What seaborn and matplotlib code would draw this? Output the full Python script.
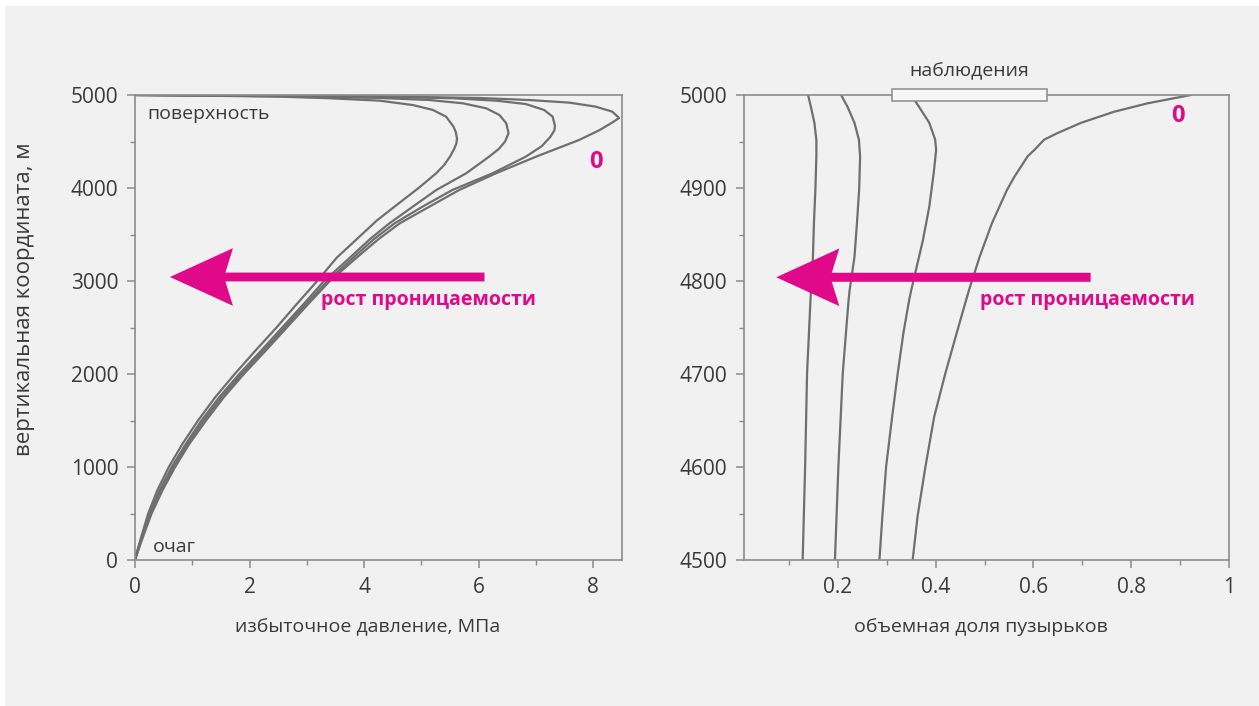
import matplotlib
matplotlib.use("Agg")
import matplotlib.pyplot as plt
import matplotlib.patches as mpatches
from matplotlib.ticker import MultipleLocator, FixedLocator, FixedFormatter
import seaborn as sns
import pandas as pd

# ---------------- data ----------------
# left panel: overpressure (MPa) vs vertical coordinate (m), four permeabilities
p1_y = [0, 100, 250, 500, 750, 1000, 1250, 1500, 1750, 2000, 2250, 2500, 2750, 3000, 3250, 3450, 3650, 3800, 4000, 4160, 4250, 4340, 4420, 4480, 4530, 4600, 4659, 4767, 4839, 4892, 4939, 4965, 4982, 4993, 5000]
p1_x = [0, 0.04, 0.11, 0.23, 0.39, 0.59, 0.83, 1.10, 1.40, 1.74, 2.10, 2.47, 2.82, 3.18, 3.52, 3.87, 4.22, 4.53, 4.95, 5.26, 5.40, 5.50, 5.57, 5.61, 5.62, 5.60, 5.56, 5.43, 5.20, 4.85, 4.27, 3.40, 2.53, 1.2, 0]

p2_y = [0, 100, 250, 500, 750, 1000, 1250, 1500, 1750, 2000, 2250, 2500, 2750, 3000, 3262, 3450, 3620, 3800, 3979, 4158, 4337, 4420, 4500, 4591, 4696, 4785, 4857, 4911, 4946, 4968, 4984, 4994, 5000]
p2_x = [0, 0.045, 0.12, 0.25, 0.43, 0.64, 0.89, 1.16, 1.47, 1.82, 2.20, 2.57, 2.94, 3.30, 3.77, 4.10, 4.44, 4.85, 5.26, 5.78, 6.18, 6.35, 6.46, 6.52, 6.48, 6.36, 6.13, 5.72, 5.14, 4.27, 3.0, 1.3, 0]

p3_y = [0, 100, 250, 500, 750, 1000, 1250, 1500, 1750, 2000, 2250, 2500, 2750, 3000, 3262, 3450, 3620, 3800, 3979, 4158, 4337, 4450, 4550, 4620, 4667, 4767, 4839, 4903, 4939, 4965, 4982, 4993, 5000]
p3_x = [0, 0.05, 0.13, 0.27, 0.46, 0.67, 0.92, 1.20, 1.51, 1.86, 2.24, 2.61, 2.98, 3.36, 3.83, 4.17, 4.53, 5.02, 5.54, 6.24, 6.82, 7.10, 7.25, 7.32, 7.33, 7.29, 7.14, 6.82, 6.30, 5.55, 4.2, 2.0, 0]

p4_y = [0, 100, 250, 500, 750, 1000, 1250, 1500, 1750, 2000, 2250, 2500, 2750, 3000, 3262, 3450, 3620, 3800, 3979, 4158, 4337, 4516, 4620, 4700, 4753, 4821, 4875, 4918, 4946, 4968, 4983, 4993, 5000]
p4_x = [0, 0.055, 0.14, 0.29, 0.48, 0.70, 0.95, 1.24, 1.55, 1.90, 2.28, 2.65, 3.02, 3.40, 3.89, 4.25, 4.62, 5.14, 5.66, 6.30, 7.00, 7.75, 8.10, 8.32, 8.45, 8.33, 8.04, 7.58, 6.88, 6.01, 4.5, 2.2, 0]

# right panel: bubble volume fraction vs vertical coordinate (m)
b1_y = [4500, 4600, 4701, 4780, 4790, 4826, 4862, 4898, 4934, 4952, 4970, 4987, 5000]
b1_x = [0.128, 0.133, 0.137, 0.144, 0.145, 0.149, 0.151, 0.154, 0.156, 0.156, 0.152, 0.145, 0.139]

b2_y = [4500, 4600, 4701, 4780, 4790, 4826, 4862, 4898, 4934, 4952, 4970, 4987, 5000]
b2_x = [0.194, 0.201, 0.210, 0.222, 0.224, 0.234, 0.239, 0.2435, 0.2455, 0.243, 0.234, 0.220, 0.2067]

b3_y = [4500, 4547, 4600, 4654, 4701, 4744, 4780, 4790, 4844, 4880, 4916, 4941, 4952, 4970, 4984, 5000]
b3_x = [0.285, 0.291, 0.2986, 0.311, 0.3225, 0.334, 0.346, 0.350, 0.374, 0.387, 0.396, 0.401, 0.399, 0.387, 0.370, 0.350]

b4_y = [4500, 4547, 4600, 4654, 4701, 4744, 4790, 4826, 4862, 4898, 4912, 4934, 4941, 4952, 4959, 4970, 4982, 4991, 5000]
b4_x = [0.353, 0.363, 0.379, 0.397, 0.420, 0.443, 0.468, 0.490, 0.515, 0.546, 0.561, 0.588, 0.602, 0.622, 0.649, 0.697, 0.765, 0.833, 0.922]

left_xticks = [0, 2, 4, 6, 8]
left_yticks = [0, 1000, 2000, 3000, 4000, 5000]
right_xticks = [0.2, 0.4, 0.6, 0.8, 1.0]
right_xlabels = ["0.2", "0.4", "0.6", "0.8", "1"]
right_yticks = [4500, 4600, 4700, 4800, 4900, 5000]
obs_range = [0.311, 0.627]

# ---------------- styling ----------------
BG = "#f1f1f1"
SPINE = "#8c8c8c"
LINE = "#6f6f6f"
MAG = "#e0098a"
TXT = "#3a3a3a"

sns.set_theme(style="ticks")
plt.rcParams["font.family"] = ["Open Sans", "DejaVu Sans"]
plt.rcParams.update({
    "axes.edgecolor": SPINE, "axes.linewidth": 1.2,
    "xtick.color": SPINE, "ytick.color": SPINE,
    "xtick.labelcolor": TXT, "ytick.labelcolor": TXT,
    "xtick.direction": "out", "ytick.direction": "out",
    "xtick.major.size": 6, "ytick.major.size": 6,
    "xtick.minor.size": 3.5, "ytick.minor.size": 3.5,
    "xtick.major.width": 1.1, "ytick.major.width": 1.1,
    "xtick.minor.width": 1.0, "ytick.minor.width": 1.0,
    "xtick.labelsize": 15, "ytick.labelsize": 15,
})

W, H = 1259, 706
fig = plt.figure(figsize=(W / 100, H / 100), dpi=100, facecolor="white")
fig.patches.append(mpatches.Rectangle((5 / W, 0), 1, 1 - 6 / H, transform=fig.transFigure,
                                      facecolor=BG, edgecolor="none", zorder=-10))

def fx(px):
    return px / W

def fy(py):
    return 1 - py / H

axL = fig.add_axes([fx(135), fy(560), fx(622) - fx(135), fy(95) - fy(560)])
axR = fig.add_axes([fx(744), fy(560), fx(1229) - fx(744), fy(95) - fy(560)])

for ax in (axL, axR):
    ax.set_facecolor(BG)
    for s in ax.spines.values():
        s.set_visible(True)
        s.set_color(SPINE)

# ---- left panel ----
left_curves = [(p1_x, p1_y), (p2_x, p2_y), (p3_x, p3_y), (p4_x, p4_y)]
for xs, ys in left_curves:
    df = pd.DataFrame({"x": xs, "y": ys})
    sns.lineplot(data=df, x="x", y="y", sort=False, estimator=None, ax=axL,
                 color=LINE, linewidth=1.6, solid_joinstyle="round", solid_capstyle="round")

axL.set_xlim(0, 8.5)
axL.set_ylim(0, 5000)
axL.xaxis.set_major_locator(FixedLocator(left_xticks))
axL.xaxis.set_minor_locator(MultipleLocator(1))
axL.yaxis.set_major_locator(FixedLocator(left_yticks))
axL.yaxis.set_minor_locator(MultipleLocator(500))
axL.tick_params(axis="both", which="major", pad=6)
axL.set_xlabel("избыточное давление, МПа", fontsize=14, color=TXT)
axL.xaxis.set_label_coords(0.478, -0.125)
axL.set_ylabel("вертикальная координата, м", fontsize=16, color=TXT)
axL.yaxis.set_label_coords(-0.205, 0.56)

axL.text(0.21, 4800, "поверхность", fontsize=14, color=TXT, ha="left", va="center")
axL.text(0.31, 140, "очаг", fontsize=14, color=TXT, ha="left", va="center")
axL.text(8.05, 4280, "0", fontsize=17, color=MAG, fontweight="bold", ha="center", va="center")
axL.arrow(6.1, 3043, 0.61 - 6.1, 0, width=95, head_width=620, head_length=1.1,
          length_includes_head=True, overhang=0.12, color=MAG, zorder=5, linewidth=0)
axL.text(5.12, 2796, "рост проницаемости", fontsize=14, color=MAG, fontweight="bold",
         ha="center", va="center")

# ---- right panel ----
right_curves = [(b1_x, b1_y), (b2_x, b2_y), (b3_x, b3_y), (b4_x, b4_y)]
for xs, ys in right_curves:
    df = pd.DataFrame({"x": xs, "y": ys})
    sns.lineplot(data=df, x="x", y="y", sort=False, estimator=None, ax=axR,
                 color=LINE, linewidth=1.6, solid_joinstyle="round", solid_capstyle="round")

axR.set_xlim(0.008, 1.0)
axR.set_ylim(4500, 5000)
axR.xaxis.set_major_locator(FixedLocator(right_xticks))
axR.xaxis.set_major_formatter(FixedFormatter(right_xlabels))
axR.xaxis.set_minor_locator(FixedLocator([0.1, 0.3, 0.5, 0.7, 0.9]))
axR.yaxis.set_major_locator(FixedLocator(right_yticks))
axR.yaxis.set_minor_locator(MultipleLocator(50))
axR.tick_params(axis="both", which="major", pad=6)
axR.set_xlabel("объемная доля пузырьков", fontsize=14, color=TXT)
axR.xaxis.set_label_coords(0.489, -0.125)
axR.set_ylabel("")

rect = mpatches.Rectangle((obs_range[0], 4993.5), obs_range[1] - obs_range[0], 13,
                          facecolor="#f6f6f6", edgecolor="#8c8c8c", linewidth=1.1,
                          clip_on=False, zorder=6)
axR.add_patch(rect)
axR.text(sum(obs_range) / 2, 5025, "наблюдения", fontsize=14, color=TXT,
         ha="center", va="center", clip_on=False)
axR.text(0.895, 4977, "0", fontsize=17, color=MAG, fontweight="bold", ha="center", va="center")
axR.arrow(0.717, 4804, 0.074 - 0.717, 0, width=9.7, head_width=62, head_length=0.129,
          length_includes_head=True, overhang=0.12, color=MAG, zorder=5, linewidth=0)
axR.text(0.711, 4780, "рост проницаемости", fontsize=14, color=MAG, fontweight="bold",
         ha="center", va="center")

fig.savefig("out.png", dpi=100, facecolor=fig.get_facecolor())
